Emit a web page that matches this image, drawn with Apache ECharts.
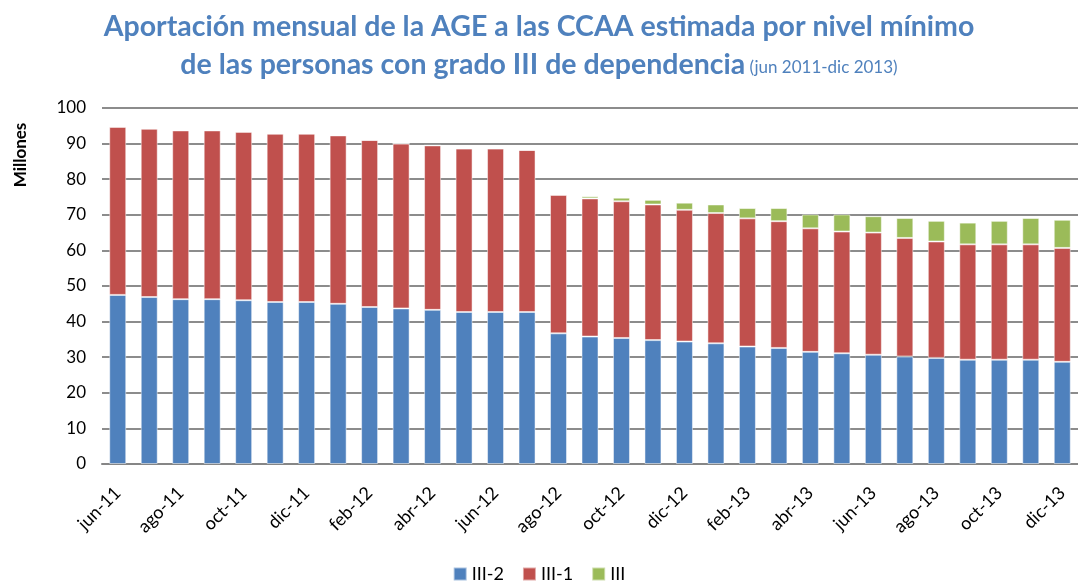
<!DOCTYPE html>
<html>
<head>
<meta charset="utf-8">
<script src="https://cdn.jsdelivr.net/npm/echarts@6/dist/echarts.min.js"></script>
<style>
  html, body { margin: 0; padding: 0; background: #fff; }
  #chart { width: 1078px; height: 583px; }
</style>
</head>
<body>
<div id="chart"></div>
<script>
// months jun-11 .. dic-13
const months = ['jun-11', 'jul-11', 'ago-11', 'sep-11', 'oct-11', 'nov-11', 'dic-11', 'ene-12',
  'feb-12', 'mar-12', 'abr-12', 'may-12', 'jun-12', 'jul-12', 'ago-12', 'sep-12', 'oct-12',
  'nov-12', 'dic-12', 'ene-13', 'feb-13', 'mar-13', 'abr-13', 'may-13', 'jun-13', 'jul-13',
  'ago-13', 'sep-13', 'oct-13', 'nov-13', 'dic-13']

// millones de euros
const gradoIII2 = [47.5, 46.9, 46.3, 46.3, 46.0, 45.5, 45.5, 45.0, 44.1, 43.7, 43.3, 42.7, 42.7, 42.7,
  36.7, 35.8, 35.4, 34.8, 34.4, 33.9, 33.0, 32.6, 31.5, 31.1, 30.7, 30.2, 29.8, 29.3, 29.3, 29.3, 28.7]
const gradoIII1 = [47.2, 47.3, 47.4, 47.4, 47.3, 47.3, 47.3, 47.3, 46.9, 46.3, 46.2, 45.9, 45.9, 45.5,
  38.9, 38.8, 38.4, 38.1, 37.0, 36.6, 36.0, 35.6, 34.7, 34.2, 34.3, 33.3, 32.7, 32.4, 32.4, 32.4, 32.0]
const gradoIII = [0, 0, 0, 0, 0, 0, 0, 0, 0, 0, 0, 0, 0, 0,
  0, 0.6, 1.0, 1.3, 2.0, 2.4, 2.9, 3.7, 3.9, 4.8, 4.6, 5.6, 5.8, 6.1, 6.6, 7.4, 7.9]

const yTicks = { min: 0, max: 100, step: 10 }

const chart = echarts.init(document.getElementById('chart'))

const barStyle = color => ({
  color: color,
  borderColor: 'rgba(255,255,255,0.5)',
  borderWidth: 1
})

chart.setOption({
  animation: false,
  textStyle: { fontFamily: 'Lato' },
  title: {
    left: 'center',
    top: 3,
    text: '{a|Aportación mensual de la AGE a las CCAA estimada por nivel mínimo}\n{a|de las personas con grado III de dependencia} {b|(jun 2011-dic 2013)}',
    textStyle: {
      rich: {
        a: { fontFamily: 'Lato', fontWeight: 'bold', fontSize: 28.5, color: '#4F81BD', lineHeight: 38 },
        b: { fontFamily: 'Lato', fontWeight: 'normal', fontSize: 17, color: '#4F81BD', lineHeight: 38, padding: [6, 0, 0, 0] }
      }
    }
  },
  graphic: [{
    type: 'text',
    x: 21,
    y: 155,
    rotation: Math.PI / 2,
    style: {
      text: 'Millones',
      fontFamily: 'Lato',
      fontWeight: 'bold',
      fontSize: 17,
      fill: '#000',
      align: 'center',
      verticalAlign: 'middle'
    }
  }],
  legend: {
    bottom: -5,
    left: 'center',
    itemWidth: 13,
    itemHeight: 13,
    itemGap: 18,
    icon: 'rect',
    textStyle: { fontSize: 18, color: '#000', fontFamily: 'Lato' },
    data: ['III-2', 'III-1', 'III']
  },
  grid: {
    left: 102,
    right: -13,
    top: 108,
    bottom: 119
  },
  xAxis: {
    type: 'category',
    data: months,
    axisLine: { lineStyle: { color: '#868686', width: 2 } },
    axisTick: { show: false },
    axisLabel: {
      interval: 1,
      rotate: 45,
      margin: 26,
      fontSize: 18,
      color: '#000',
      fontFamily: 'Lato'
    }
  },
  yAxis: {
    type: 'value',
    min: yTicks.min,
    max: yTicks.max,
    interval: yTicks.step,
    axisLine: { show: false },
    axisTick: { show: false },
    axisLabel: { fontSize: 17, color: '#000', margin: 16, fontFamily: 'Lato' },
    splitLine: { lineStyle: { color: '#8c8c8c', width: 2 } }
  },
  series: [
    { name: 'III-2', type: 'bar', stack: 'total', barWidth: 17, data: gradoIII2, itemStyle: barStyle('#4F81BD') },
    { name: 'III-1', type: 'bar', stack: 'total', barWidth: 17, data: gradoIII1, itemStyle: barStyle('#C0504D') },
    { name: 'III', type: 'bar', stack: 'total', barWidth: 17, data: gradoIII, itemStyle: barStyle('#9BBB59') }
  ]
})
</script>
</body>
</html>
